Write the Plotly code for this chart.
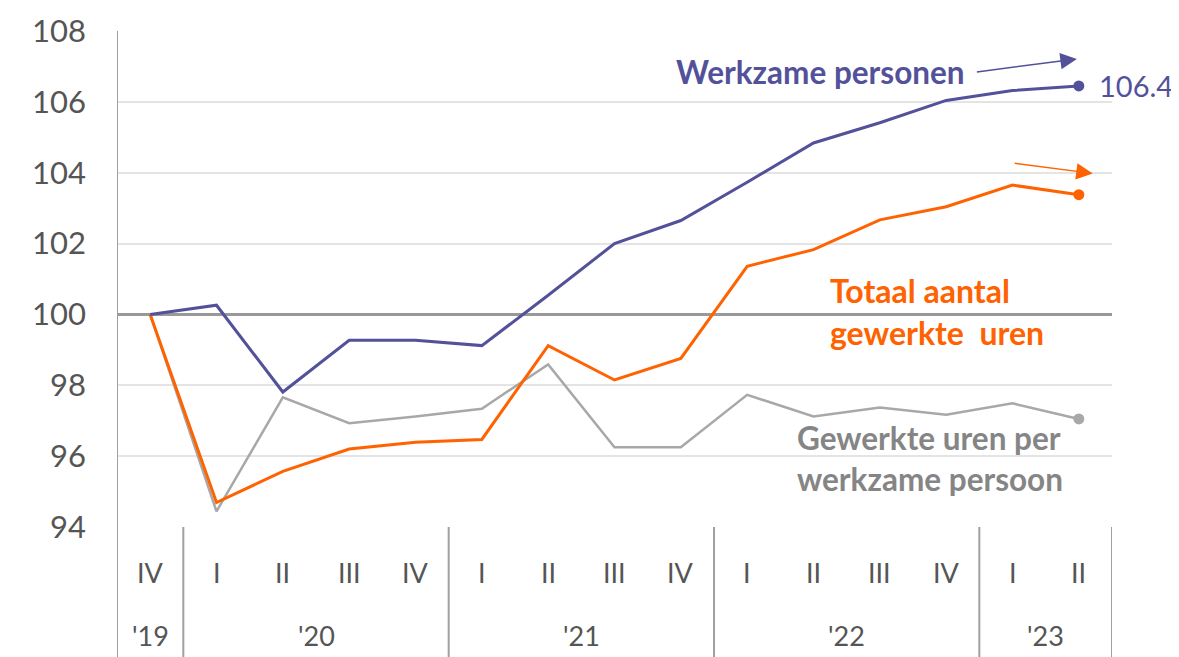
import plotly.graph_objects as go

quarters = ["IV", "I", "II", "III", "IV", "I", "II", "III", "IV", "I", "II", "III", "IV", "I", "II"]
years = ["'19", "'20", "'21", "'22", "'23"]
year_centers = [0, 2.5, 6.5, 10.5, 13.5]
year_bounds = [-0.5, 0.5, 4.5, 8.5, 12.5, 14.5]

werkzame_personen = [100, 100.26, 97.81, 99.27, 99.27, 99.12, 100.54, 102.0, 102.65, 103.73, 104.84, 105.41, 106.04, 106.32, 106.45]
totaal_uren = [100, 94.69, 95.57, 96.2, 96.39, 96.47, 99.12, 98.15, 98.76, 101.36, 101.83, 102.67, 103.04, 103.65, 103.38]
uren_per_persoon = [100, 94.44, 97.66, 96.93, 97.12, 97.34, 98.59, 96.25, 96.25, 97.73, 97.12, 97.37, 97.17, 97.49, 97.05]
y_ticks = [94, 96, 98, 100, 102, 104, 106, 108]

BLUE = "#525199"
ORANGE = "#FF6200"
GRAY = "#A8A8A8"
FONT = "Lato"

x = list(range(len(quarters)))
fig = go.Figure()

def add_series(vals, color, width):
    fig.add_trace(go.Scatter(x=x, y=vals, mode="lines", line=dict(color=color, width=width),
                             showlegend=False, hoverinfo="skip"))
    fig.add_trace(go.Scatter(x=[x[-1]], y=[vals[-1]], mode="markers",
                             marker=dict(color=color, size=11), showlegend=False, hoverinfo="skip"))

add_series(uren_per_persoon, GRAY, 2.5)
add_series(totaal_uren, ORANGE, 3)
add_series(werkzame_personen, BLUE, 3)

shapes = []
# baseline at 100
shapes.append(dict(type="line", xref="x", yref="y", x0=-0.5, x1=14.5, y0=100, y1=100,
                   line=dict(color="#999999", width=3), layer="between"))
# vertical separators
for i, b in enumerate(year_bounds):
    shapes.append(dict(type="line", xref="x", yref="paper", x0=b, x1=b,
                       y0=1.0 if i == 0 else 0.0, y1=-0.27,
                       line=dict(color="#A0A0A0", width=2)))

annotations = []
for xi, q in zip(x, quarters):
    annotations.append(dict(x=xi, y=-0.091, xref="x", yref="paper", text=q, showarrow=False,
                            font=dict(family=FONT, size=27, color="#555555"), yanchor="middle"))
for xc, yr in zip(year_centers, years):
    annotations.append(dict(x=xc, y=-0.218, xref="x", yref="paper", text=yr, showarrow=False,
                            font=dict(family=FONT, size=27, color="#555555"), yanchor="middle"))

# series labels
annotations += [
    dict(x=10.11, y=106.84, xref="x", yref="y", text="<b>Werkzame personen</b>", showarrow=False,
         xanchor="center", yanchor="middle", font=dict(family=FONT, size=31.5, color=BLUE)),
    dict(x=14.28, y=106.45, xref="x", yref="y", text="106.4", showarrow=False,
         xanchor="left", yanchor="middle", font=dict(family=FONT, size=29, color=BLUE)),
    dict(x=10.22, y=100.08, xref="x", yref="y", text="<b>Totaal aantal<br>gewerkte  uren</b>",
         showarrow=False, xanchor="left", yanchor="middle", align="left",
         font=dict(family=FONT, size=32, color=ORANGE)),
    dict(x=9.72, y=95.92, xref="x", yref="y", text="<b>Gewerkte uren per<br>werkzame persoon</b>",
         showarrow=False, xanchor="left", yanchor="middle", align="left",
         font=dict(family=FONT, size=31.5, color="#858585")),
    # arrows
    dict(x=13.97, y=107.21, ax=12.44, ay=106.84, xref="x", yref="y", axref="x", ayref="y",
         text="", showarrow=True, arrowhead=2, arrowsize=2.2, arrowwidth=1.5, arrowcolor=BLUE),
    dict(x=14.21, y=103.98, ax=13.01, ay=104.27, xref="x", yref="y", axref="x", ayref="y",
         text="", showarrow=True, arrowhead=2, arrowsize=2.2, arrowwidth=1.5, arrowcolor=ORANGE),
]

# page body has an 8px default margin: shrink the figure so the plot area lands at the reference pixels
fig.update_layout(
    width=1171, height=649,
    margin=dict(l=109, r=67, t=23, b=130, autoexpand=False),
    plot_bgcolor="white", paper_bgcolor="white",
    shapes=shapes, annotations=annotations,
    font=dict(family=FONT),
)
fig.update_xaxes(range=[-0.5, 14.5], showgrid=False, zeroline=False, showticklabels=False,
                 showline=False, fixedrange=True, automargin=False)
fig.update_yaxes(range=[94, 108], tickvals=y_ticks, showgrid=True, gridcolor="#E4E4E4", gridwidth=1.5,
                 zeroline=False, showline=False, ticks="", ticklabelstandoff=30, automargin=False,
                 tickfont=dict(family=FONT, size=31, color="#555555"), fixedrange=True)

fig.write_html("out.html")
